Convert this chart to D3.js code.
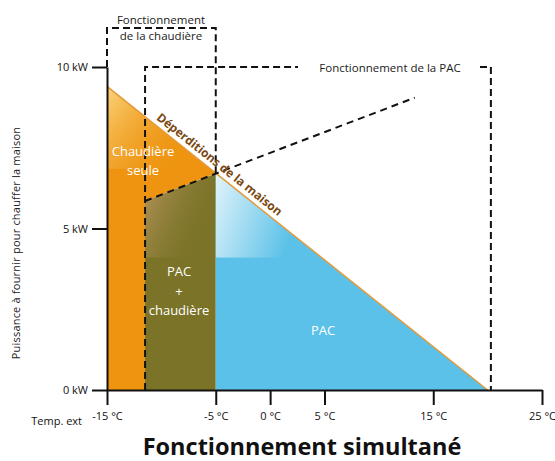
<!DOCTYPE html>
<html>
<head>
<meta charset="utf-8">
<script src="https://cdn.jsdelivr.net/npm/d3@7"></script>
<style>
  body { margin: 0; background: #fff; }
  svg text { font-family: "Open Sans", sans-serif; }
</style>
</head>
<body>
<svg class="chart" width="555" height="461"></svg>
<script>
// data
var tempTicks = [-15, -5, 0, 5, 15, 25];
var kwTicks = [0, 5, 10];
var lossLine = [[-15, 9.4], [20, 0]];            // déperditions de la maison
var pacLine = [[-11.5, 5.85], [-5, 6.7], [13.3, 9.05]]; // capacité PAC
var boilerRange = [-15, -5];
var pacRange = [-11.5, 20.3];

var svg = d3.select("svg.chart");
var x = d3.scaleLinear().domain([-15, 25]).range([107, 542]);
var y = d3.scaleLinear().domain([0, 10]).range([390, 67]);

function lossAt(t) {
  var a = lossLine[0], b = lossLine[1];
  return a[1] + (t - a[0]) * (b[1] - a[1]) / (b[0] - a[0]);
}

var defs = svg.append("defs");
function grad(id, stops, x2, y2) {
  var g = defs.append("linearGradient").attr("id", id)
    .attr("x1", 0).attr("y1", 0).attr("x2", x2).attr("y2", y2);
  stops.forEach(function(s) {
    g.append("stop").attr("offset", s[0]).attr("stop-color", s[1]).attr("stop-opacity", s[2]);
  });
}
grad("gOrange", [[0, "#ffe9a0", 0.95], [0.9, "#ee9410", 0]], 1, 0.8);
grad("gOlive", [[0, "#c9a070", 0.9], [1, "#7b7327", 0]], 1, 0.6);
grad("gBlue", [[0, "#ffffff", 0.85], [0.85, "#ffffff", 0]], 1, 0.3);

var line = d3.line().x(function(d) { return x(d[0]); }).y(function(d) { return y(d[1]); });

// regions
var orangePts = [[-15, 0], [-15, lossAt(-15)], [-5, lossAt(-5)], pacLine[0], [pacLine[0][0], 0]];
var olivePts = [[pacLine[0][0], 0], pacLine[0], pacLine[1], [-5, 0]];
var bluePts = [[-5, 0], [-5, lossAt(-5)], [lossLine[1][0], 0]];

[["cOrange", orangePts], ["cOlive", olivePts], ["cBlue", bluePts]].forEach(function(c) {
  defs.append("clipPath").attr("id", c[0]).append("path").attr("d", line(c[1]) + "Z");
});

svg.append("path").attr("d", line(orangePts) + "Z").attr("fill", "#ee9410");
svg.append("path").attr("d", line(olivePts) + "Z").attr("fill", "#7b7327");
svg.append("path").attr("d", line(bluePts) + "Z").attr("fill", "#5bc1e8");

// glossy highlights
svg.append("rect").attr("clip-path", "url(#cOrange)")
  .attr("x", x(-15)).attr("y", y(10)).attr("width", x(-5) - x(-15)).attr("height", y(6.85) - y(10))
  .attr("fill", "url(#gOrange)");
svg.append("rect").attr("clip-path", "url(#cOlive)")
  .attr("x", x(-11.5)).attr("y", y(7)).attr("width", x(-5) - x(-11.5)).attr("height", y(4.1) - y(7))
  .attr("fill", "url(#gOlive)");
svg.append("rect").attr("clip-path", "url(#cBlue)")
  .attr("x", x(-5)).attr("y", y(7)).attr("width", x(5) - x(-5)).attr("height", y(4.1) - y(7))
  .attr("fill", "url(#gBlue)");

// heat loss line
svg.append("path").attr("d", line(lossLine)).attr("fill", "none")
  .attr("stroke", "#e39a3a").attr("stroke-width", 1.5);

// dashed lines
function dashed(pts, dash) {
  svg.append("path").attr("d", line(pts)).attr("fill", "none")
    .attr("stroke", "#111").attr("stroke-width", 2).attr("stroke-dasharray", dash || "6,4");
}
dashed(pacLine, "7,5");
// boiler box
var boxTop = y.invert(28);
dashed([[boilerRange[0], 10], [boilerRange[0], boxTop], [boilerRange[1], boxTop], [boilerRange[1], lossAt(-5)]], "7,4");
// PAC box
dashed([[pacRange[0], 0], [pacRange[0], 10], [x.invert(298), 10]], "7,4");
dashed([[x.invert(480), 10], [pacRange[1], 10], [pacRange[1], 0]], "7,4");

// axes
var yAxis = svg.append("g").attr("transform", "translate(" + x(-15) + ",0)")
  .call(d3.axisLeft(y).tickValues(kwTicks).tickSize(15).tickSizeOuter(0).tickPadding(4)
    .tickFormat(function(d) { return d + " kW"; }));
var xAxis = svg.append("g").attr("transform", "translate(0," + y(0) + ")")
  .call(d3.axisBottom(x).tickValues(tempTicks).tickSize(15).tickSizeOuter(0).tickPadding(7)
    .tickFormat(function(d) { return d + " °C"; }));
[yAxis, xAxis].forEach(function(a) {
  a.selectAll("path, line").attr("stroke", "#111").attr("stroke-width", 2);
  a.selectAll("text").attr("font-family", "Open Sans, sans-serif").attr("font-size", 11).attr("fill", "#111");
});

svg.append("text").attr("x", 82).attr("y", 425).attr("text-anchor", "end")
  .attr("font-size", 11).attr("fill", "#111").text("Temp. ext");

// y title
svg.append("text").attr("transform", "translate(20,243) rotate(-90)")
  .attr("text-anchor", "middle").attr("font-size", 11).attr("letter-spacing", 0.2).attr("fill", "#222")
  .text("Puissance à fournir pour chauffer la maison");

// box labels
svg.append("text").attr("x", 161).attr("y", 24).attr("text-anchor", "middle").attr("font-size", 11.5).attr("fill", "#222").text("Fonctionnement");
svg.append("text").attr("x", 161).attr("y", 40).attr("text-anchor", "middle").attr("font-size", 11.5).attr("fill", "#222").text("de la chaudière");
svg.append("text").attr("x", 390).attr("y", 72).attr("text-anchor", "middle").attr("font-size", 11.5).attr("fill", "#222").text("Fonctionnement de la PAC");

// region labels
function label(tx, ty, s) {
  svg.append("text").attr("x", tx).attr("y", ty).attr("text-anchor", "middle")
    .attr("font-size", 13).attr("fill", "#fff").text(s);
}
label(143, 156, "Chaudière");
label(143, 175, "seule");
label(179, 276, "PAC");
label(179, 296, "+");
label(179, 315, "chaudière");
label(323, 335, "PAC");

// loss label along line
var ang = Math.atan2(y(lossLine[1][1]) - y(lossLine[0][1]), x(lossLine[1][0]) - x(lossLine[0][0])) * 180 / Math.PI;
var t0 = -10.8;
var off = 5;
var px = x(t0) + off * Math.sin(ang * Math.PI / 180), py = y(lossAt(t0)) - off * Math.cos(ang * Math.PI / 180);
svg.append("text").attr("transform", "translate(" + px + "," + py + ") rotate(" + ang + ")")
  .attr("font-size", 12).attr("font-weight", "bold").attr("fill", "#7b4a12")
  .text("Déperditions de la maison");

// title
svg.append("text").attr("x", 302).attr("y", 455).attr("text-anchor", "middle")
  .attr("font-size", 23.5).attr("font-weight", "bold").attr("fill", "#111")
  .text("Fonctionnement simultané");
</script>
</body>
</html>
